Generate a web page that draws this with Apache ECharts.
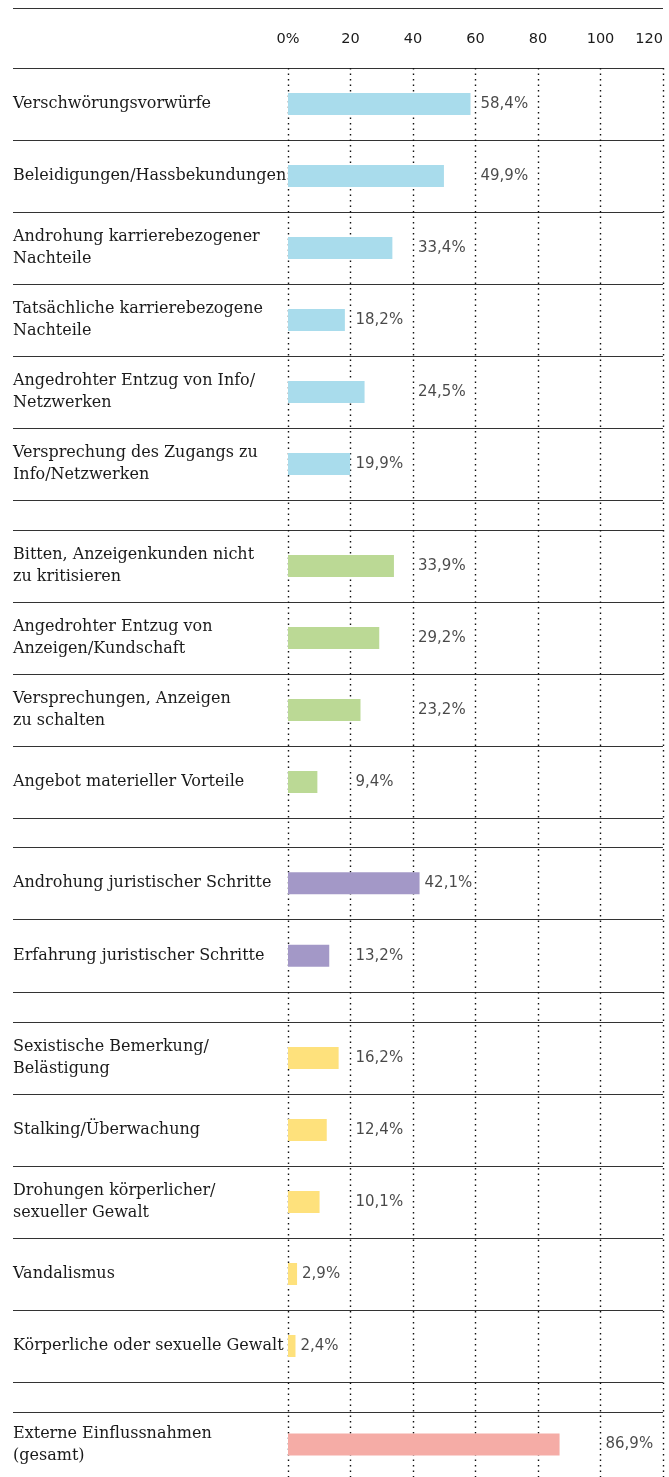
<!DOCTYPE html>
<html>
<head>
<meta charset="utf-8">
<script src="https://cdn.jsdelivr.net/npm/echarts@6/dist/echarts.min.js"></script>
<style>
  html, body { margin: 0; padding: 0; background: #fff; }
  #chart { width: 669px; height: 1477px; }
</style>
</head>
<body>
<div id="chart"></div>
<script>
// 데이터 (그룹별)
var tickValues = [0, 20, 40, 60, 80, 100, 120];

var group1Labels = ['Verschwörungsvorwürfe', 'Beleidigungen/Hassbekundungen', 'Androhung karrierebezogener\nNachteile', 'Tatsächliche karrierebezogene\nNachteile', 'Angedrohter Entzug von Info/\nNetzwerken', 'Versprechung des Zugangs zu\nInfo/Netzwerken'];
var group1Values = [58.4, 49.9, 33.4, 18.2, 24.5, 19.9];

var group2Labels = ['Bitten, Anzeigenkunden nicht\nzu kritisieren', 'Angedrohter Entzug von\nAnzeigen/Kundschaft', 'Versprechungen, Anzeigen\nzu schalten', 'Angebot materieller Vorteile'];
var group2Values = [33.9, 29.2, 23.2, 9.4];

var group3Labels = ['Androhung juristischer Schritte', 'Erfahrung juristischer Schritte'];
var group3Values = [42.1, 13.2];

var group4Labels = ['Sexistische Bemerkung/\nBelästigung', 'Stalking/Überwachung', 'Drohungen körperlicher/\nsexueller Gewalt', 'Vandalismus', 'Körperliche oder sexuelle Gewalt'];
var group4Values = [16.2, 12.4, 10.1, 2.9, 2.4];

var group5Labels = ['Externe Einflussnahmen\n(gesamt)'];
var group5Values = [86.9];

var groupColors = ['#a9dcec', '#bbd995', '#a398c7', '#fee17c', '#f5aca6'];

var groups = [
  { labels: group1Labels, values: group1Values, top: 68, height: 432 },
  { labels: group2Labels, values: group2Values, top: 530, height: 288 },
  { labels: group3Labels, values: group3Values, top: 847, height: 145 },
  { labels: group4Labels, values: group4Values, top: 1022, height: 360 },
  { labels: group5Labels, values: group5Values, top: 1412, height: 72 }
];

var chart = echarts.init(document.getElementById('chart'));

var LEFT = 288, RIGHT = 6;
var LINE = '#333';
var TEXT = '#1a1a1a';

// 라벨이 다음 점선에 걸리면 점선 뒤로 이동
function labelAnchor(v) {
  var next = Math.ceil(v / 20) * 20;
  if (next - v < 17) return next;
  return v;
}

function fmt(v) {
  return v.toFixed(1).replace('.', ',') + '%';
}

var grids = [];
var xAxes = [];
var yAxes = [];
var series = [];

// 배경 그리드: 점선 + 상단 눈금
grids.push({ left: LEFT, right: RIGHT, top: 68, bottom: 0 });
xAxes.push({
  gridIndex: 0,
  type: 'value',
  position: 'top',
  min: tickValues[0],
  max: tickValues[tickValues.length - 1],
  interval: tickValues[1] - tickValues[0],
  axisLine: { show: false },
  axisTick: { show: false },
  axisLabel: {
    margin: 21,
    fontFamily: 'DejaVu Sans',
    fontSize: 14.5,
    color: TEXT,
    alignMaxLabel: 'right',
    formatter: function (v) { return v === 0 ? '0%' : String(v); }
  },
  splitLine: { show: true, lineStyle: { color: '#111', width: 1.4, type: [1.5, 4] } }
});
yAxes.push({ gridIndex: 0, type: 'value', show: false, min: 0, max: 1 });

groups.forEach(function (g, i) {
  var gi = i + 1;
  grids.push({ left: LEFT, right: RIGHT, top: g.top, height: g.height });
  xAxes.push({ gridIndex: gi, type: 'value', min: 0, max: 120, show: false });
  yAxes.push({
    gridIndex: gi,
    type: 'category',
    inverse: true,
    data: g.labels,
    axisLine: { show: false },
    axisTick: { show: true, length: LEFT - 13, lineStyle: { color: LINE, width: 1 } },
    splitLine: { show: true, lineStyle: { color: LINE, width: 1 } },
    axisLabel: {
      margin: LEFT - 13,
      align: 'left',
      fontFamily: 'DejaVu Serif',
      fontSize: 16,
      lineHeight: 22,
      color: TEXT
    }
  });
  series.push({
    type: 'bar',
    xAxisIndex: gi,
    yAxisIndex: gi,
    data: g.values,
    barWidth: 22,
    itemStyle: { color: groupColors[i] },
    z: 3
  });
  series.push({
    type: 'scatter',
    xAxisIndex: gi,
    yAxisIndex: gi,
    symbolSize: 0,
    data: g.values.map(function (v, k) { return [labelAnchor(v), k, v]; }),
    label: {
      show: true,
      position: 'right',
      distance: 5,
      fontFamily: 'DejaVu Sans',
      fontSize: 15,
      color: TEXT,
      formatter: function (p) { return fmt(p.value[2]); }
    },
    z: 4
  });
});

var option = {
  animation: false,
  backgroundColor: '#fff',
  grid: grids,
  xAxis: xAxes,
  yAxis: yAxes,
  series: series,
  graphic: [
    {
      type: 'line',
      shape: { x1: 13, y1: 8.5, x2: 663, y2: 8.5 },
      style: { stroke: LINE, lineWidth: 1 }
    }
  ]
};

chart.setOption(option);
</script>
</body>
</html>
